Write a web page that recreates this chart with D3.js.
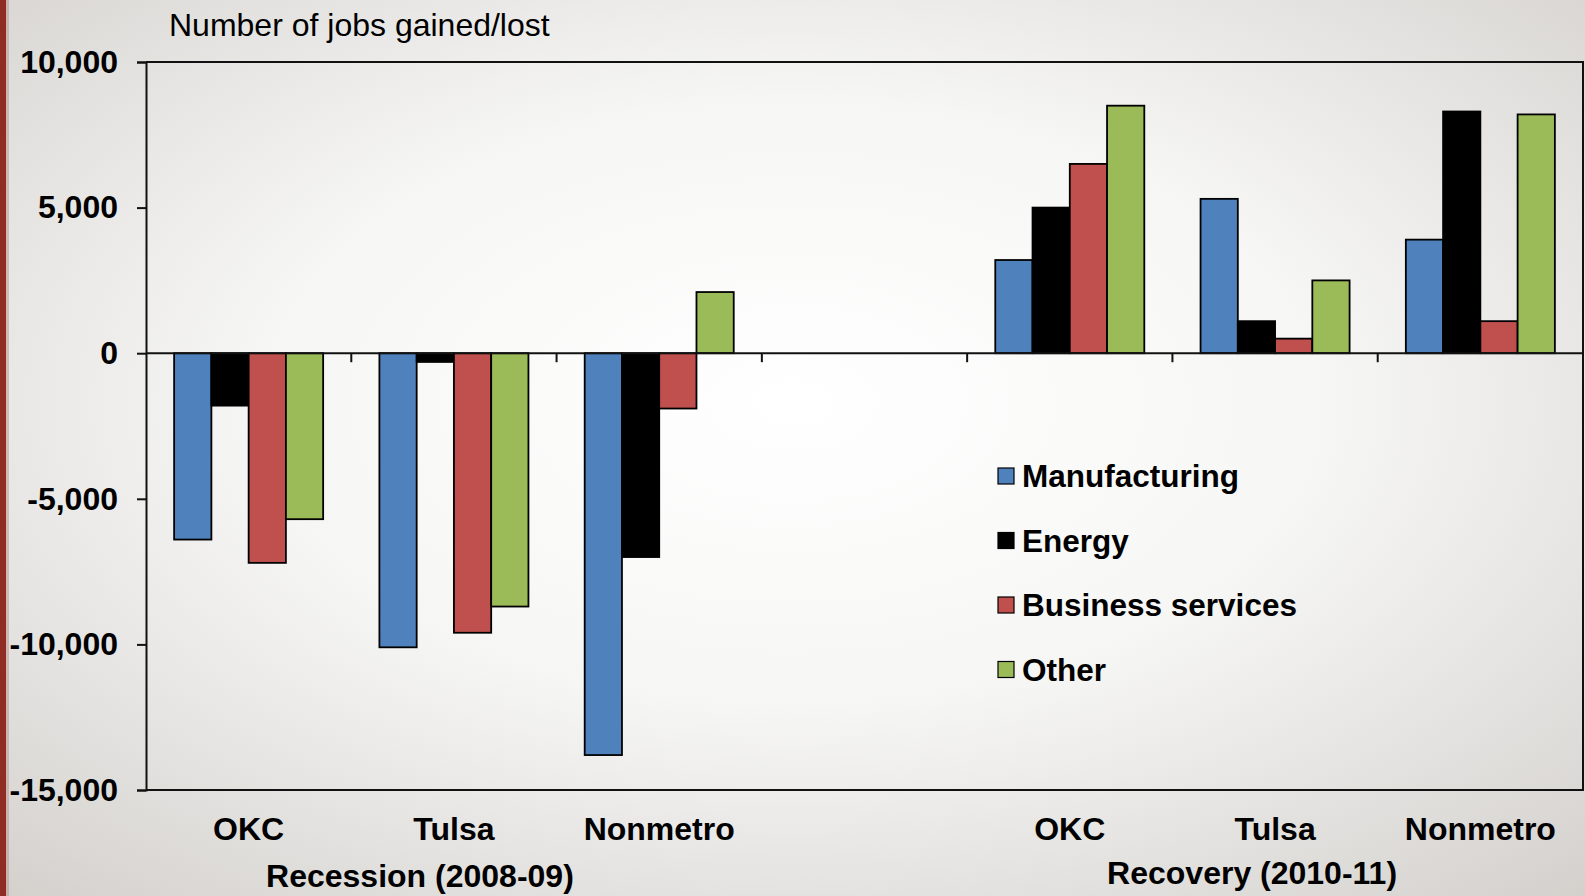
<!DOCTYPE html>
<html>
<head>
<meta charset="utf-8">
<script src="https://cdn.jsdelivr.net/npm/d3@7.9.0/dist/d3.min.js"></script>
<style>
  html, body { margin: 0; padding: 0; }
  body { width: 1585px; height: 896px; overflow: hidden; }
  svg { display: block; font-family: "Liberation Sans", Arial, sans-serif; }
</style>
</head>
<body>
<svg id="chart" width="1585" height="896"></svg>
<script>
// data
const categories = ['OKC', 'Tulsa', 'Nonmetro', '', 'OKC ', 'Tulsa ', 'Nonmetro '];
const series = ['Manufacturing', 'Energy', 'Business services', 'Other'];
const colorsList = ['#4F81BD', '#000000', '#C0504D', '#9BBB59'];
const manufacturing = [-6400, -10100, -13800, null, 3200, 5300, 3900];
const energy = [-1800, -300, -7000, null, 5000, 1100, 8300];
const business = [-7200, -9600, -1900, null, 6500, 500, 1100];
const other = [-5700, -8700, 2100, null, 8500, 2500, 8200];
const yTicks = [-15000, -10000, -5000, 0, 5000, 10000];
const groups = [
  { label: 'Recession (2008-09)', at: 'Tulsa', shift: -34, y: 887 },
  { label: 'Recovery (2010-11)', at: 'Tulsa ', shift: -23, y: 884 }
];

const values = [manufacturing, energy, business, other];

const svg = d3.select('#chart');
const W = 1585, H = 896;
const margin = { left: 146, right: 2, top: 62, bottom: 106 };

// background
const defs = svg.append('defs');
const grad = defs.append('radialGradient')
  .attr('id', 'bg').attr('cx', '50%').attr('cy', '45%').attr('r', '75%');
grad.append('stop').attr('offset', '0%').attr('stop-color', '#ffffff');
grad.append('stop').attr('offset', '45%').attr('stop-color', '#f6f6f5');
grad.append('stop').attr('offset', '100%').attr('stop-color', '#d3d0cc');
svg.append('rect').attr('width', W).attr('height', H).attr('fill', 'url(#bg)');
svg.append('rect').attr('width', 6).attr('height', H).attr('fill', '#8f2c24');
svg.append('rect').attr('x', 6).attr('width', 3).attr('height', H).attr('fill', '#b8908a').attr('opacity', 0.5);

const x = d3.scaleBand()
  .domain(categories)
  .range([margin.left, W - margin.right])
  .padding(0);

const xs = d3.scaleBand()
  .domain(series)
  .range([0, x.bandwidth()])
  .paddingInner(0)
  .paddingOuter(0.755);

const y = d3.scaleLinear()
  .domain([-15000, 10000])
  .range([H - margin.bottom, margin.top]);

const color = d3.scaleOrdinal().domain(series).range(colorsList);

// frame top / right / bottom
const x0 = margin.left, x1 = W - margin.right;
svg.append('path')
  .attr('d', `M${x0},${y(10000)}H${x1}V${y(-15000)}H${x0}`)
  .attr('fill', 'none').attr('stroke', '#111').attr('stroke-width', 2);

// bars
const barData = [];
categories.forEach((c, i) => {
  series.forEach((s, j) => {
    const v = values[j][i];
    if (v != null) barData.push({ c, s, v });
  });
});

svg.append('g').selectAll('rect')
  .data(barData)
  .join('rect')
  .attr('x', d => x(d.c) + xs(d.s))
  .attr('width', xs.bandwidth())
  .attr('y', d => y(Math.max(0, d.v)))
  .attr('height', d => Math.abs(y(d.v) - y(0)))
  .attr('fill', d => color(d.s))
  .attr('stroke', '#000')
  .attr('stroke-width', 1.8);

// zero line with category boundary ticks
const bounds = categories.slice(1).map(c => x(c));
const zeroAxis = svg.append('g').attr('transform', `translate(0,${y(0)})`);
zeroAxis.append('line')
  .attr('x1', x0).attr('x2', x1)
  .attr('stroke', '#111').attr('stroke-width', 2);
zeroAxis.selectAll('line.tk')
  .data(bounds)
  .join('line')
  .attr('class', 'tk')
  .attr('x1', d => d).attr('x2', d => d)
  .attr('y1', 0).attr('y2', 9)
  .attr('stroke', '#111').attr('stroke-width', 2);

// y axis
const fmt = d3.format(',');
const yAxis = svg.append('g')
  .attr('transform', `translate(${x0},0)`)
  .call(d3.axisLeft(y).tickValues(yTicks).tickSize(9).tickPadding(19)
    .tickFormat(d => fmt(d).replace('\u2212', '-')));
yAxis.select('.domain').attr('stroke', '#111').attr('stroke-width', 2);
yAxis.selectAll('.tick line').attr('stroke', '#111').attr('stroke-width', 2);
yAxis.selectAll('.tick text')
  .attr('font-family', '"Liberation Sans", Arial, sans-serif')
  .attr('font-size', 32).attr('font-weight', 'bold').attr('fill', '#000');

// category labels
svg.append('g').selectAll('text')
  .data(categories.filter(c => c.trim() !== ''))
  .join('text')
  .attr('x', d => x(d) + x.bandwidth() / 2)
  .attr('y', 840)
  .attr('text-anchor', 'middle')
  .attr('font-size', 32).attr('font-weight', 'bold')
  .text(d => d.trim());

// group labels
svg.append('g').selectAll('text')
  .data(groups)
  .join('text')
  .attr('x', d => x(d.at) + x.bandwidth() / 2 + d.shift)
  .attr('y', d => d.y)
  .attr('text-anchor', 'middle')
  .attr('font-size', 32).attr('font-weight', 'bold')
  .text(d => d.label);

// title
svg.append('text')
  .attr('x', 169).attr('y', 36)
  .attr('font-size', 32)
  .text('Number of jobs gained/lost');

// legend
const legend = svg.append('g').attr('transform', 'translate(998,476)');
const li = legend.selectAll('g')
  .data(series)
  .join('g')
  .attr('transform', (d, i) => `translate(0,${i * 64.5})`);
li.append('rect')
  .attr('x', 0).attr('y', -8).attr('width', 16).attr('height', 16)
  .attr('fill', d => color(d)).attr('stroke', '#000').attr('stroke-width', 1.2);
li.append('text')
  .attr('x', 24).attr('y', 11)
  .attr('font-size', 31.5).attr('font-weight', 'bold')
  .text(d => d);
</script>
</body>
</html>
